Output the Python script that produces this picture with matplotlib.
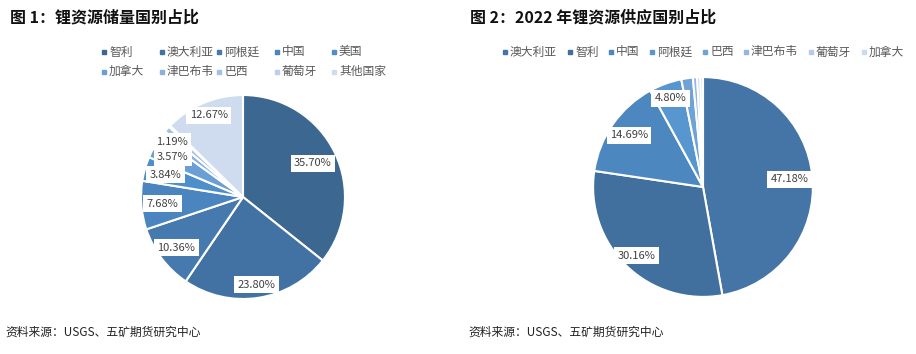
import matplotlib.pyplot as plt
import numpy as np

plt.rcParams['font.family'] = ['Noto Sans CJK SC', 'DejaVu Sans']

W, H = 916, 354

# 图1 储量
names1 = ["智利", "澳大利亚", "阿根廷", "中国", "美国", "加拿大", "津巴布韦", "巴西", "葡萄牙", "其他国家"]
vals1 = [35.70, 23.80, 10.36, 7.68, 3.84, 3.57, 1.19, 0.96, 0.23, 12.67]
cols1 = ["#3b6791", "#4272a3", "#4679ad", "#4a85bf", "#4e8ecb", "#6a9fd5",
         "#8ab1de", "#a1c0e5", "#b9cfeb", "#cfdcef"]
show1 = [True, True, True, True, True, True, True, False, False, True]

# 图2 供应
names2 = ["澳大利亚", "智利", "中国", "阿根廷", "巴西", "津巴布韦", "葡萄牙", "加拿大"]
vals2 = [47.18, 30.16, 14.69, 4.80, 1.70, 0.62, 0.46, 0.39]
cols2 = ["#4475a6", "#416f9e", "#4d87c0", "#5896cf", "#6fa3d7", "#93b7e0", "#b4cbea", "#ccdaef"]
show2 = [True, True, True, True, False, False, False, False]

fig = plt.figure(figsize=(W / 100, H / 100), dpi=100)


def px(x, y):
    return x / W, 1 - y / H


def pie_at(cx, cy, r, vals, cols, show, pds):
    ax = fig.add_axes([(cx - r) / W, (H - cy - r) / H, 2 * r / W, 2 * r / H])
    ax.pie(vals, colors=cols, startangle=90, counterclock=False,
           wedgeprops=dict(edgecolor="white", linewidth=1.5))
    total = sum(vals)
    cum = 0
    for v, s, pd in zip(vals, show, pds):
        mid = np.deg2rad(90 - (cum + v / 2) / total * 360)
        cum += v
        if not s:
            continue
        ax.text(pd * np.cos(mid), pd * np.sin(mid), f"{v:.2f}%", ha="center", va="center",
                fontsize=8, color="#404040",
                bbox=dict(boxstyle="square,pad=0.3", fc="white", ec="none"))
    ax.set_xlim(-1.01, 1.01)
    ax.set_ylim(-1.01, 1.01)
    return ax


pie_at(243, 197, 103, vals1, cols1, show1,
       [0.76, 0.87, 0.82, 0.79, 0.79, 0.79, 0.88, 0.8, 0.8, 0.87])
pie_at(703, 187, 111, vals2, cols2, show2,
       [0.79, 0.87, 0.82, 0.86, 0.8, 0.8, 0.8, 0.8])

# titles
fig.text(*px(10, 17), "图 1：锂资源储量国别占比", fontsize=11.5, fontweight="bold",
         ha="left", va="center", color="#111111")
fig.text(*px(470, 17), "图 2：2022 年锂资源供应国别占比", fontsize=11.5, fontweight="bold",
         ha="left", va="center", color="#111111")

# legend 1 (two rows, five columns)
for i, (n, c) in enumerate(zip(names1, cols1)):
    x = 104 + (i % 5) * 57.5
    y = 52 + (i // 5) * 19.5
    fig.patches.append(plt.Rectangle(px(x - 2, y + 2), 4 / W, 4 / H, color=c,
                                     transform=fig.transFigure, figure=fig))
    fig.text(*px(x + 5, y), n, fontsize=8.5, color="#595959", ha="left", va="center")

# legend 2 (one row)
x = 505
for n, c in zip(names2, cols2):
    fig.patches.append(plt.Rectangle(px(x - 2, 54), 4 / W, 4 / H, color=c,
                                     transform=fig.transFigure, figure=fig))
    fig.text(*px(x + 5, 52), n, fontsize=8.5, color="#595959", ha="left", va="center")
    x += 17 + 12 * len(n)

# sources
fig.text(*px(5, 332), "资料来源：USGS、五矿期货研究中心", fontsize=8.5, color="#222222",
         ha="left", va="center")
fig.text(*px(468, 332), "资料来源：USGS、五矿期货研究中心", fontsize=8.5, color="#222222",
         ha="left", va="center")

fig.savefig("out.png", dpi=100)
